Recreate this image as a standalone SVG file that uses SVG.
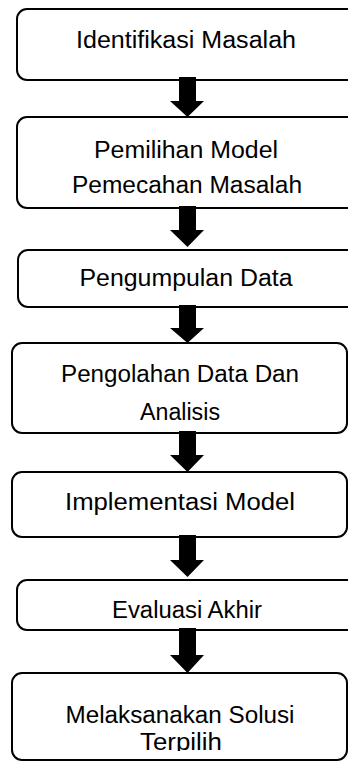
<svg xmlns="http://www.w3.org/2000/svg" width="348" height="761" viewBox="0 0 348 761">
<defs>
<style>
.box{fill:#fff;stroke:#000;stroke-width:2}
.t{font-family:"Liberation Sans",Arial,sans-serif;font-size:23px;fill:#000;text-anchor:middle}
.arr{fill:#000}
</style>
<clipPath id="clip7"><rect x="0" y="674" width="348" height="77"/></clipPath>
</defs>
<rect width="348" height="761" fill="#fff"/>
<g id="n1"><rect class="box" x="17" y="9" width="340" height="71" rx="10"/>
<text class="t" x="186" y="48" textLength="220" lengthAdjust="spacingAndGlyphs">Identifikasi Masalah</text></g>
<g id="n2"><rect class="box" x="17" y="117" width="340" height="91" rx="10"/>
<text class="t" x="186" y="158" textLength="184" lengthAdjust="spacingAndGlyphs">Pemilihan Model</text>
<text class="t" x="187" y="193" textLength="230" lengthAdjust="spacingAndGlyphs">Pemecahan Masalah</text></g>
<g id="n3"><rect class="box" x="18" y="250" width="339" height="57" rx="10"/>
<text class="t" x="186" y="286" textLength="213" lengthAdjust="spacingAndGlyphs">Pengumpulan Data</text></g>
<g id="n4"><rect class="box" x="12" y="343" width="335" height="90" rx="10"/>
<text class="t" x="180" y="382" textLength="238" lengthAdjust="spacingAndGlyphs">Pengolahan Data Dan</text>
<text class="t" x="180" y="420" textLength="80" lengthAdjust="spacingAndGlyphs">Analisis</text></g>
<g id="n5"><rect class="box" x="12" y="472" width="335" height="65" rx="10"/>
<text class="t" x="180" y="510" textLength="230" lengthAdjust="spacingAndGlyphs">Implementasi Model</text></g>
<g id="n6"><rect class="box" x="17" y="580" width="340" height="50" rx="10"/>
<text class="t" x="187" y="618" textLength="150" lengthAdjust="spacingAndGlyphs">Evaluasi Akhir</text></g>
<g id="n7"><rect class="box" x="12" y="673" width="335" height="87" rx="10"/>
<text class="t" x="180" y="723" textLength="229" lengthAdjust="spacingAndGlyphs">Melaksanakan Solusi</text>
<text class="t" x="181" y="750" textLength="82" lengthAdjust="spacingAndGlyphs" clip-path="url(#clip7)">Terpilih</text></g>
<g id="connectors">
<path class="arr" d="M179,77 H196 V101 H204 L187.5,117 L170,101 H179 Z"/>
<path class="arr" d="M179,206 H196 V230 H204 L187.5,247 L170,230 H179 Z"/>
<path class="arr" d="M179,305 H196 V328 H204 L187.5,343 L170,328 H179 Z"/>
<path class="arr" d="M179,431 H196 V455 H204 L187.5,472 L170,455 H179 Z"/>
<path class="arr" d="M179,535 H196 V560 H204 L187.5,577 L170,560 H179 Z"/>
<path class="arr" d="M179,628 H196 V655 H204 L187.5,673 L170,655 H179 Z"/>
</g>
</svg>
